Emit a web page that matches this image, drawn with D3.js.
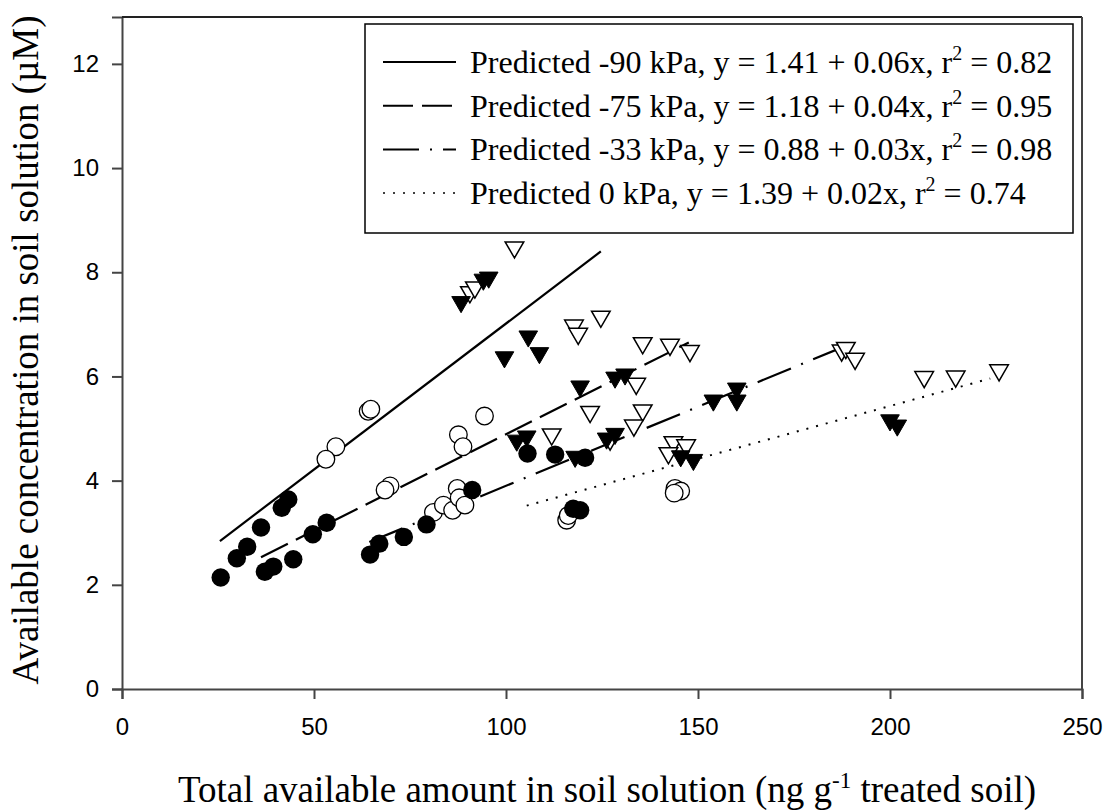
<!DOCTYPE html>
<html>
<head>
<meta charset="utf-8">
<script src="https://cdn.jsdelivr.net/npm/d3@7"></script>
<style>
  body { margin: 0; background: #fff; }
  svg { display: block; }
</style>
</head>
<body>
<svg id="chart" width="1107" height="810"></svg>
<script>
// measured points, [x, y]
var filledCircles = [[25.7,2.14],[29.9,2.51],[32.6,2.73],[36.2,3.10],[41.6,3.48],[43.3,3.64],[37.2,2.25],[39.4,2.35],
  [44.6,2.49],[49.7,2.97],[53.3,3.19],[64.6,2.58],[67.0,2.79],[73.4,2.92],[79.3,3.16],[91.2,3.82],[105.6,4.52],
  [112.8,4.50],[120.6,4.44],[117.5,3.46],[119.3,3.43]];
var openCircles = [[64.1,5.33],[64.8,5.37],[55.7,4.65],[53.1,4.41],[69.8,3.90],[68.5,3.82],[81.1,3.39],[83.7,3.53],
  [86.1,3.43],[87.3,3.85],[87.8,3.67],[89.3,3.53],[87.6,4.88],[88.8,4.65],[94.4,5.24],[115.8,3.24],[116.2,3.33],
  [144.0,3.85],[145.5,3.80],[143.8,3.76]];
var filledTriangles = [[88.3,7.43],[94.1,7.86],[95.5,7.90],[99.6,6.37],[105.8,6.77],[108.7,6.45],[119.3,5.81],
  [102.8,4.77],[105.4,4.85],[118.0,4.46],[126.2,4.81],[128.4,4.90],[128.4,5.98],[131.0,6.04],[145.5,4.47],
  [148.8,4.40],[154.0,5.54],[160.1,5.77],[160.1,5.54],[200.0,5.16],[201.9,5.06]];
var openTriangles = [[90.6,7.62],[91.9,7.71],[102.2,8.48],[111.9,4.89],[117.7,6.98],[118.8,6.82],[124.7,7.15],
  [121.9,5.32],[135.6,6.64],[142.7,6.61],[147.9,6.49],[133.9,5.86],[135.6,5.35],[133.3,5.06],[127.1,4.79],
  [143.6,4.74],[146.9,4.68],[142.3,4.53],[187.4,6.50],[188.5,6.55],[190.9,6.34],[208.9,5.99],[217.1,6.00],
  [228.4,6.12]];

// fitted lines, drawn between these end points
var fitNames = ["Predicted -90 kPa", "Predicted -75 kPa", "Predicted -33 kPa", "Predicted 0 kPa"];
var fitEquations = ["y = 1.41 + 0.06x", "y = 1.18 + 0.04x", "y = 0.88 + 0.03x", "y = 1.39 + 0.02x"];
var fitR2 = ["0.82", "0.95", "0.98", "0.74"];
var fitStart = [[25.5,2.84],[36.2,2.53],[64.4,2.82],[105.4,3.52]];
var fitEnd = [[124.7,8.40],[147.6,6.65],[190.9,6.66],[226.1,5.96]];
var fitDash = [null, "30,9", "36,11,2,11", "2,8"];

var xTicks = [0, 50, 100, 150, 200, 250];
var yTicks = [0, 2, 4, 6, 8, 10, 12];

var svg = d3.select("#chart");
var plotLeft = 122, plotTop = 17, plotRight = 1082, plotBottom = 689;

var x = d3.scaleLinear().domain([0, 250]).range([plotLeft, plotRight]);
var y = d3.scaleLinear().domain([0, 12.9]).range([plotBottom, plotTop]);

var sans = "'Liberation Sans', Arial, sans-serif";
var serif = "'Liberation Serif', 'Times New Roman', serif";

// axes
var xAxis = svg.append("g")
    .attr("transform", "translate(0," + plotBottom + ")")
    .call(d3.axisBottom(x).tickValues(xTicks).tickSize(10).tickPadding(19).tickFormat(d3.format("d")));
var yAxis = svg.append("g")
    .attr("transform", "translate(" + plotLeft + ",0)")
    .call(d3.axisLeft(y).tickValues(yTicks).tickSize(10).tickPadding(13).tickFormat(d3.format("d")));

[xAxis, yAxis].forEach(function(a) {
    a.select(".domain").attr("stroke", "#444").attr("stroke-width", 2);
    a.selectAll(".tick line").attr("stroke", "#444").attr("stroke-width", 2);
    a.selectAll(".tick text").attr("font-family", sans).attr("font-size", 24).attr("fill", "#000");
});

// top and right frame
svg.append("line").attr("x1", plotLeft).attr("x2", plotRight).attr("y1", plotTop).attr("y2", plotTop)
    .attr("stroke", "#222").attr("stroke-width", 2);
svg.append("line").attr("x1", plotRight).attr("x2", plotRight).attr("y1", plotTop).attr("y2", plotBottom)
    .attr("stroke", "#444").attr("stroke-width", 2);

// fit lines
var plot = svg.append("g");
plot.selectAll(".fit")
    .data(fitNames)
    .enter().append("line")
    .attr("class", "fit")
    .attr("x1", function(d, i) { return x(fitStart[i][0]); })
    .attr("y1", function(d, i) { return y(fitStart[i][1]); })
    .attr("x2", function(d, i) { return x(fitEnd[i][0]); })
    .attr("y2", function(d, i) { return y(fitEnd[i][1]); })
    .attr("stroke", "#000")
    .attr("stroke-width", function(d, i) { return i == 3 ? 2 : 2.2; })
    .attr("stroke-dasharray", function(d, i) { return fitDash[i]; });

// markers
var tri = d3.symbol().type(d3.symbolTriangle).size(150);

plot.selectAll(".oc").data(openCircles).enter().append("circle")
    .attr("cx", function(d) { return x(d[0]); })
    .attr("cy", function(d) { return y(d[1]); })
    .attr("r", 8.8).attr("fill", "#fff").attr("stroke", "#000").attr("stroke-width", 1.3);

plot.selectAll(".fc").data(filledCircles).enter().append("circle")
    .attr("cx", function(d) { return x(d[0]); })
    .attr("cy", function(d) { return y(d[1]); })
    .attr("r", 9.2).attr("fill", "#000");

plot.selectAll(".ot").data(openTriangles).enter().append("path")
    .attr("d", tri)
    .attr("transform", function(d) { return "translate(" + x(d[0]) + "," + y(d[1]) + ") rotate(180)"; })
    .attr("fill", "#fff").attr("stroke", "#000").attr("stroke-width", 1.5);

plot.selectAll(".ft").data(filledTriangles).enter().append("path")
    .attr("d", tri)
    .attr("transform", function(d) { return "translate(" + x(d[0]) + "," + y(d[1]) + ") rotate(180)"; })
    .attr("fill", "#000").attr("stroke", "#000").attr("stroke-width", 1);

// legend
var legend = svg.append("g");
legend.append("rect")
    .attr("x", 365).attr("y", 24).attr("width", 708).attr("height", 209)
    .attr("fill", "#fff").attr("stroke", "#000").attr("stroke-width", 1.5);

var rows = legend.selectAll(".row")
    .data(fitNames)
    .enter().append("g")
    .attr("transform", function(d, i) { return "translate(0," + (62 + i * 43.7) + ")"; });

rows.append("line")
    .attr("x1", 383).attr("x2", 456).attr("y1", 0).attr("y2", 0)
    .attr("stroke", "#000")
    .attr("stroke-width", function(d, i) { return i == 3 ? 1.5 : 2; })
    .attr("stroke-dasharray", function(d, i) { return fitDash[i]; });

var lt = rows.append("text")
    .attr("x", 470).attr("y", 11)
    .attr("font-family", serif).attr("font-size", 32).attr("fill", "#000");
lt.append("tspan").text(function(d, i) { return d + ", " + fitEquations[i] + ", r"; });
lt.append("tspan").attr("dy", -13).attr("font-size", 20).text("2");
lt.append("tspan").attr("dy", 13).text(function(d, i) { return " = " + fitR2[i]; });

// axis titles
var xt = svg.append("text")
    .attr("x", 607).attr("y", 802)
    .attr("text-anchor", "middle")
    .attr("font-family", serif).attr("font-size", 37).attr("fill", "#000");
xt.append("tspan").text("Total available amount in soil solution (ng g");
xt.append("tspan").attr("dy", -14).attr("font-size", 23).text("-1");
xt.append("tspan").attr("dy", 14).text(" treated soil)");

svg.append("text")
    .attr("transform", "translate(38,350) rotate(-90)")
    .attr("text-anchor", "middle")
    .attr("font-family", serif).attr("font-size", 37).attr("fill", "#000")
    .text("Available concentration in soil solution (\u00b5M)");
</script>
</body>
</html>
